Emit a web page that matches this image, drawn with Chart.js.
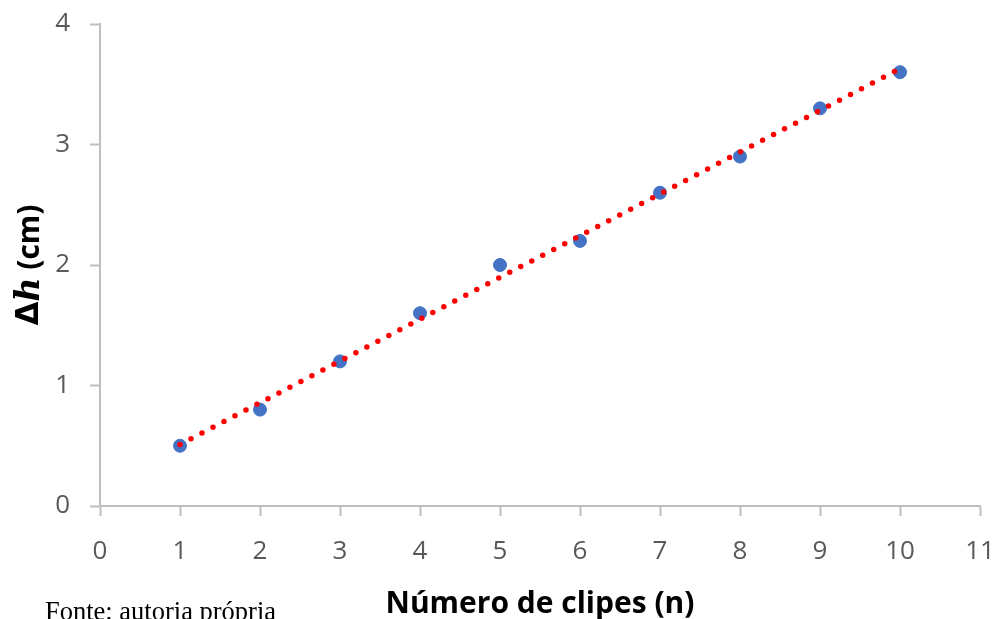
<!DOCTYPE html>
<html>
<head>
<meta charset="utf-8">
<script src="https://cdn.jsdelivr.net/npm/chart.js@4.4.1/dist/chart.umd.min.js"></script>
<style>
  html, body { margin: 0; padding: 0; background: #fff; overflow: hidden; }
  #wrap { position: relative; width: 1003px; height: 619px; }
  #caption {
    position: absolute; left: 45px; top: 596px;
    font-family: "Liberation Serif", "Times New Roman", serif;
    font-size: 26.5px; color: #000; white-space: nowrap;
  }
</style>
</head>
<body>
<div id="wrap">
  <canvas id="chart"></canvas>
  <div id="caption">Fonte: autoria própria</div>
</div>
<script>
// data
const clips = [1, 2, 3, 4, 5, 6, 7, 8, 9, 10];
const deltaH = [0.5, 0.8, 1.2, 1.6, 2.0, 2.2, 2.6, 2.9, 3.3, 3.6];
// trendline ends (Excel linear trend)
const trendX = [1, 10];
const trendY = [0.51, 3.63];

const axisGrey = '#BFBFBF';
const tickGrey = '#595959';

// y axis title with italic h
const yTitlePlugin = {
  id: 'yTitle',
  afterDraw(chart) {
    const ctx = chart.ctx;
    const parts = [
      { t: 'Δ', f: 'bold 31px "DejaVu Sans", sans-serif' },
      { t: 'h', f: 'italic bold 33px "DejaVu Serif", "Liberation Serif", serif' },
      { t: ' (cm)', f: 'bold 30px "Open Sans", sans-serif' }
    ];
    ctx.save();
    let total = 0;
    parts.forEach(p => { ctx.font = p.f; p.w = ctx.measureText(p.t).width; total += p.w; });
    ctx.translate(30, 265);
    ctx.rotate(-Math.PI / 2);
    ctx.fillStyle = '#000';
    ctx.textBaseline = 'middle';
    let x = -total / 2;
    parts.forEach(p => { ctx.font = p.f; ctx.fillText(p.t, x, 0); x += p.w; });
    ctx.restore();
  }
};

const ctx = document.getElementById('chart').getContext('2d');
new Chart(ctx, {
  type: 'scatter',
  data: {
    datasets: [
      {
        type: 'line',
        label: 'Tendência',
        data: trendX.map((x, i) => ({ x: x, y: trendY[i] })),
        borderColor: '#FF0000',
        borderWidth: 5.5,
        borderDash: [0, 12.4],
        borderCapStyle: 'round',
        pointRadius: 0,
        fill: false,
        order: 0
      },
      {
        label: 'Δh',
        data: clips.map((x, i) => ({ x: x, y: deltaH[i] })),
        backgroundColor: '#4472C4',
        borderColor: '#4472C4',
        pointRadius: 6.5,
        order: 1
      }
    ]
  },
  options: {
    responsive: true,
    maintainAspectRatio: false,
    animation: false,
    layout: { padding: { top: 24, right: 23, left: 0, bottom: 0 } },
    plugins: { legend: { display: false }, tooltip: { enabled: false } },
    scales: {
      x: {
        type: 'linear',
        min: 0, max: 11,
        ticks: { stepSize: 1, color: tickGrey, font: { family: 'Open Sans', size: 26 }, padding: 20 },
        grid: { drawOnChartArea: false, drawTicks: true, tickLength: 10, tickColor: axisGrey, tickWidth: 2 },
        border: { color: axisGrey, width: 2 },
        title: { display: true, text: 'Número de clipes (n)', color: '#000', font: { family: 'Open Sans', size: 30, weight: 'bold' }, padding: { top: 0, bottom: -3 } },
        afterFit(scale) {
          scale.height = 113;
          scale.paddingLeft = 0;
          scale.paddingRight = 0;
        }
      },
      y: {
        min: 0, max: 4,
        ticks: { stepSize: 1, color: tickGrey, font: { family: 'Open Sans', size: 26 }, padding: 20 },
        grid: { drawOnChartArea: false, drawTicks: true, tickLength: 10, tickColor: axisGrey, tickWidth: 2 },
        border: { color: axisGrey, width: 2 },
        afterFit(scale) {
          scale.width = 100;
          scale.paddingTop = 0;
          scale.paddingBottom = 0;
        }
      }
    }
  },
  plugins: [yTitlePlugin]
});
</script>
</body>
</html>
